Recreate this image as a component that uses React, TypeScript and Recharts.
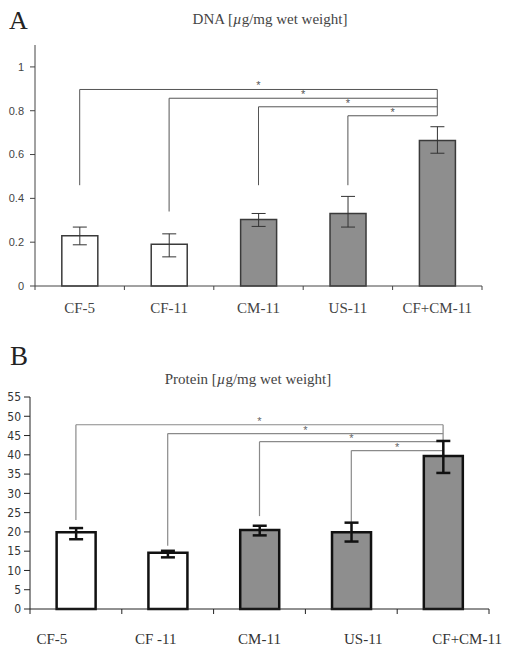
import React from "react";
import { BarChart, Bar, Cell, XAxis, YAxis, ErrorBar, ReferenceLine } from "recharts";

// panel A: DNA
const dnaGroups = ["CF-5", "CF-11", "CM-11", "US-11", "CF+CM-11"];
const dnaMean = [0.229, 0.191, 0.304, 0.331, 0.664];
const dnaErrLow = [0.041, 0.058, 0.032, 0.062, 0.058];
const dnaErrHigh = [0.04, 0.047, 0.027, 0.078, 0.063];
const dnaTicks = [0, 0.2, 0.4, 0.6, 0.8, 1];
const dnaSigLevels = [0.897, 0.857, 0.818, 0.777];
const dnaSigStart = [0.46, 0.34, 0.46, 0.46];

// panel B: protein
const proteinGroups = ["CF-5", "CF -11", "CM-11", "US-11", "CF+CM-11"];
const proteinMean = [19.9, 14.6, 20.5, 19.9, 39.7];
const proteinErrLow = [1.8, 1.2, 1.4, 2.4, 4.4];
const proteinErrHigh = [1.1, 0.5, 1.1, 2.5, 3.9];
const proteinTicks = [0, 5, 10, 15, 20, 25, 30, 35, 40, 45, 50, 55];
const proteinSigLevels = [47.8, 45.5, 43.4, 41.1];
const proteinSigStart = [23.1, 16.4, 24.1, 18.3];

// control groups drawn as open bars
const openBars = [true, true, false, false, false];

const serif = "'Liberation Serif', 'Times New Roman', serif";
const sans = "'Liberation Sans', Arial, sans-serif";
const narrow = "'Liberation Sans Narrow', 'DejaVu Sans Condensed', 'Liberation Sans', sans-serif";

const dnaData = dnaGroups.map((name, i) => ({ name, value: dnaMean[i], err: [dnaErrLow[i], dnaErrHigh[i]] }));
const proteinData = proteinGroups.map((name, i) => ({ name, value: proteinMean[i], err: [proteinErrLow[i], proteinErrHigh[i]] }));

const boundaryTick = (len: number, stroke: string, w: number) => (p: any) => {
  const y = Math.max(p.y1, p.y2);
  return <line x1={p.x1} x2={p.x1} y1={y} y2={y + len} stroke={stroke} strokeWidth={w} />;
};

function CatTick(props: any) {
  const { x, y, payload, index, drop, spread, fill } = props;
  return (
    <text x={x + (index - 2) * spread} y={y + drop} textAnchor="middle" fontFamily={serif} fontSize={15} fill={fill}>
      {payload.value}
    </text>
  );
}

function brackets(groups: string[], levels: number[], starts: number[], stroke: string, w: number, starColor: string) {
  const last = groups[groups.length - 1];
  const out: React.ReactNode[] = [];
  levels.forEach((lvl, i) => {
    const g = groups[i];
    out.push(
      <ReferenceLine key={`v${i}`} segment={[{ x: g, y: starts[i] }, { x: g, y: lvl }]} stroke={stroke} strokeWidth={w} ifOverflow="visible" />
    );
    out.push(
      <ReferenceLine
        key={`h${i}`}
        segment={[{ x: g, y: lvl }, { x: last, y: lvl }]}
        stroke={stroke}
        strokeWidth={w}
        ifOverflow="visible"
        label={{ value: "*", position: "top", offset: 0, fontSize: 11, fill: starColor, fontFamily: sans }}
      />
    );
  });
  out.push(
    <ReferenceLine key="vr" segment={[{ x: last, y: levels[0] }, { x: last, y: levels[levels.length - 1] }]} stroke={stroke} strokeWidth={w} ifOverflow="visible" />
  );
  return out;
}

function boundaries(groups: string[], len: number, stroke: string, w: number) {
  const out = groups.map((g) => (
    <ReferenceLine key={`b${g}`} x={g} position="start" stroke={stroke} shape={boundaryTick(len, stroke, w)} />
  ));
  out.push(
    <ReferenceLine key="bend" x={groups[groups.length - 1]} position="end" stroke={stroke} shape={boundaryTick(len, stroke, w)} />
  );
  return out;
}

export default function App() {
  return (
    <div style={{ position: "absolute", left: 0, top: 0, width: 507, height: 653, background: "#fff" }}>
      <div style={{ position: "absolute", left: 0, top: 0 }}>
        <BarChart width={507} height={325} data={dnaData} margin={{ top: 45, right: 25, left: 0, bottom: 0 }} barCategoryGap="30%">
          <XAxis
            dataKey="name"
            height={39}
            tickSize={0}
            tickMargin={0}
            tickLine={false}
            axisLine={{ stroke: "#444" }}
            tick={<CatTick drop={27} spread={0} fill="#444" />}
            interval={0}
          />
          <YAxis
            domain={[0, 1.1]}
            ticks={dnaTicks}
            interval={0}
            width={35}
            tickSize={5}
            tickMargin={6}
            axisLine={{ stroke: "#444" }}
            tickLine={{ stroke: "#444" }}
            tick={{ fontFamily: sans, fontSize: 11, fill: "#444" }}
          />
          {boundaries(dnaGroups, 4, "#444", 1)}
          {brackets(dnaGroups, dnaSigLevels, dnaSigStart, "#555", 1, "#555")}
          <Bar dataKey="value" stroke="#3a3a3a" strokeWidth={1.5} isAnimationActive={false}>
            {dnaData.map((d, i) => (
              <Cell key={d.name} fill={openBars[i] ? "#ffffff" : "#8e8e8e"} />
            ))}
            <ErrorBar dataKey="err" width={7} stroke="#333" strokeWidth={1} />
          </Bar>
        </BarChart>
      </div>
      <div style={{ position: "absolute", left: 0, top: 320 }}>
        <BarChart width={507} height={333} data={proteinData} margin={{ top: 77, right: 18, left: 0, bottom: 0 }} barCategoryGap="29%">
          <XAxis
            dataKey="name"
            height={44}
            tickSize={0}
            tickMargin={0}
            tickLine={false}
            axisLine={{ stroke: "#222" }}
            tick={<CatTick drop={35} spread={12} fill="#333" />}
            interval={0}
          />
          <YAxis
            domain={[0, 55]}
            ticks={proteinTicks}
            interval={0}
            width={30}
            tickSize={6}
            tickMargin={3}
            axisLine={{ stroke: "#222" }}
            tickLine={{ stroke: "#222" }}
            tick={{ fontFamily: narrow, fontSize: 12, fill: "#333" }}
          />
          {boundaries(proteinGroups, 5, "#222", 1)}
          {brackets(proteinGroups, proteinSigLevels, proteinSigStart, "#8a8a8a", 1.2, "#666")}
          <Bar dataKey="value" stroke="#111" strokeWidth={2.5} isAnimationActive={false}>
            {proteinData.map((d, i) => (
              <Cell key={d.name} fill={openBars[i] ? "#ffffff" : "#8e8e8e"} />
            ))}
            <ErrorBar dataKey="err" width={7} stroke="#111" strokeWidth={2.5} />
          </Bar>
        </BarChart>
      </div>
      <svg width={507} height={653} style={{ position: "absolute", left: 0, top: 0, pointerEvents: "none" }}>
        <text x={9} y={29} fontFamily={serif} fontSize={26} fill="#222">A</text>
        <text x={270} y={24} textAnchor="middle" fontFamily={serif} fontSize={15} fill="#444">
          DNA [<tspan fontStyle="italic">µ</tspan>g/mg wet weight]
        </text>
        <text x={10} y={365} fontFamily={serif} fontSize={27} fill="#222">B</text>
        <text x={248} y={384} textAnchor="middle" fontFamily={serif} fontSize={15} fill="#444">
          Protein [<tspan fontStyle="italic">µ</tspan>g/mg wet weight]
        </text>
      </svg>
    </div>
  );
}
